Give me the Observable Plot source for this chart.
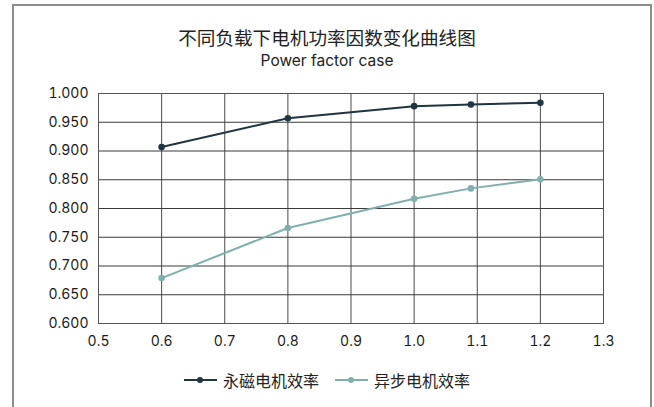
<!DOCTYPE html>
<html>
<head>
<meta charset="utf-8">
<script src="https://cdn.jsdelivr.net/npm/d3@7"></script>
<script src="https://cdn.jsdelivr.net/npm/@observablehq/plot@0.6"></script>
<style>
  html, body { margin: 0; padding: 0; background: #fff; overflow: hidden; }
  body { width: 654px; height: 407px; position: relative; font-family: Inter, "Noto Sans CJK SC", sans-serif; color: #222; }
  #frame { position: absolute; left: 12px; top: 4px; width: 636px; height: 430px; border: 2px solid #8d8d8d; box-sizing: content-box; }
  #title { position: absolute; left: 0; width: 654px; top: 25px; text-align: center; font-size: 18.6px; line-height: 24px; font-family: "Noto Sans CJK SC", sans-serif; color: #222; }
  #subtitle { position: absolute; left: 0; width: 654px; top: 50px; text-align: center; font-size: 15.5px; line-height: 22px; font-family: Inter, sans-serif; color: #222; }
  #chart { position: absolute; left: 0; top: 0; }
  #legend { position: absolute; left: 0; width: 654px; top: 369px; display: flex; justify-content: center; align-items: center; gap: 0; font-family: "Noto Sans CJK SC", sans-serif; font-size: 16px; line-height: 22px; color: #222; }
  .item { display: flex; align-items: center; margin: 0 8px; }
  .sym { position: relative; width: 33px; height: 12px; margin-right: 6px; }
  .sym .ln { position: absolute; left: 0; right: 0; top: 5px; height: 2px; }
  .sym .dt { position: absolute; left: 13px; top: 3px; width: 6px; height: 6px; border-radius: 50%; }
</style>
</head>
<body>
<div id="frame"></div>
<div id="title">不同负载下电机功率因数变化曲线图</div>
<div id="subtitle">Power factor case</div>
<div id="chart"></div>
<div id="legend"></div>
<script>
// Data
const loads = [0.6, 0.8, 1.0, 1.09, 1.2];
const pmValues = [0.907, 0.957, 0.978, 0.981, 0.984];
const imValues = [0.679, 0.766, 0.817, 0.835, 0.851];
const seriesNames = ["永磁电机效率", "异步电机效率"];
const seriesColors = ["#1f3540", "#7fb0ad"];
const xTicks = [0.5, 0.6, 0.7, 0.8, 0.9, 1.0, 1.1, 1.2, 1.3];
const yTicks = [0.6, 0.65, 0.7, 0.75, 0.8, 0.85, 0.9, 0.95, 1.0];

const rows = [];
loads.forEach((x, i) => {
  rows.push({series: seriesNames[0], x, y: pmValues[i]});
  rows.push({series: seriesNames[1], x, y: imValues[i]});
});

const chart = Plot.plot({
  width: 654,
  height: 360,
  marginLeft: 98,
  marginRight: 51,
  marginTop: 93,
  marginBottom: 37,
  style: {fontFamily: "Inter, sans-serif", fontSize: "14px", color: "#1a1a1a", background: "transparent"},
  x: {domain: [0.5, 1.3], ticks: xTicks, tickFormat: d3.format(".1f"), tickSize: 0, tickPadding: 13, label: null},
  y: {domain: [0.6, 1.0], ticks: yTicks, tickFormat: d3.format(".3f"), tickSize: 0, tickPadding: 10, label: null},
  color: {domain: seriesNames, range: seriesColors},
  marks: [
    Plot.gridX(xTicks, {stroke: "#4a4a4a", strokeOpacity: 1, strokeWidth: 1}),
    Plot.gridY(yTicks, {stroke: "#3a3a3a", strokeOpacity: 1, strokeWidth: 1}),
    Plot.frame({stroke: "#555", strokeWidth: 1}),
    Plot.line(rows, {x: "x", y: "y", z: "series", stroke: "series", strokeWidth: 2}),
    Plot.dot(rows, {x: "x", y: "y", fill: "series", r: 3.3})
  ]
});
document.getElementById("chart").appendChild(chart);

const legend = document.getElementById("legend");
seriesNames.forEach((name, i) => {
  const item = document.createElement("div");
  item.className = "item";
  item.innerHTML = `<div class="sym"><div class="ln" style="background:${seriesColors[i]}"></div><div class="dt" style="background:${seriesColors[i]}"></div></div><span>${name}</span>`;
  legend.appendChild(item);
});
</script>
</body>
</html>
